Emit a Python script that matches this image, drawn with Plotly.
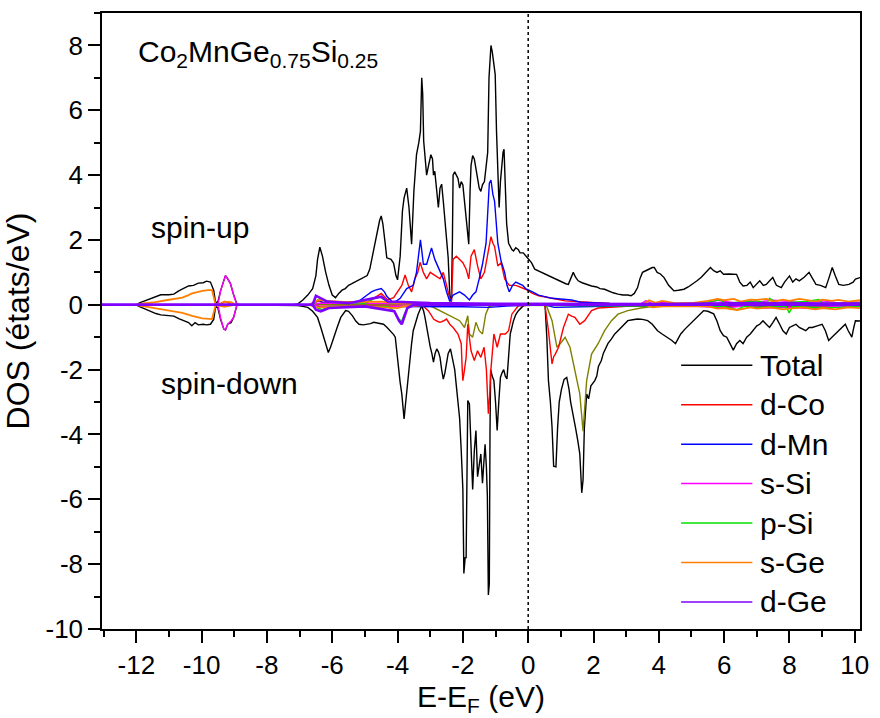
import plotly.graph_objects as go

# ---------------- data (energy in eV, DOS in states/eV) ----------------
x_tickvals = [-12, -10, -8, -6, -4, -2, 0, 2, 4, 6, 8, 10]
x_ticktext = ["-12", "-10", "-8", "-6", "-4", "-2", "0", "2", "4", "6", "8", "10"]
y_tickvals = [-10, -8, -6, -4, -2, 0, 2, 4, 6, 8]
y_ticktext = ["-10", "-8", "-6", "-4", "-2", "0", "2", "4", "6", "8"]

legend_names = ["Total", "d-Co", "d-Mn", "s-Si", "p-Si", "s-Ge", "d-Ge"]
legend_colors = ["#000000", "#ff0000", "#0000ff", "#ff00ff", "#00e000", "#ff8000", "#8000ff"]
olive_color = "#808000"

total_up = [(-13.05, 0), (-12.0, 0), (-11.9, 0.06), (-11.8, 0.1), (-11.6, 0.18), (-11.4, 0.25), (-11.25, 0.31),
            (-11.0, 0.31), (-10.85, 0.33), (-10.7, 0.43), (-10.55, 0.5), (-10.4, 0.58), (-10.25, 0.6), (-10.1, 0.67),
            (-9.95, 0.68), (-9.85, 0.73), (-9.73, 0.7), (-9.63, 0.45), (-9.57, 0.05), (-9.5, 0.1), (-9.42, 0.43),
            (-9.32, 0.78), (-9.27, 0.9), (-9.2, 0.8), (-9.12, 0.66), (-9.02, 0.31), (-8.92, 0.02), (-8.8, 0),
            (-7.2, 0), (-7.05, 0.03), (-6.9, 0.15), (-6.75, 0.3), (-6.6, 0.5), (-6.5, 0.9), (-6.45, 1.4),
            (-6.38, 1.78), (-6.3, 1.5), (-6.2, 1.0), (-6.1, 0.6), (-6.0, 0.3), (-5.9, 0.22), (-5.8, 0.35),
            (-5.7, 0.45), (-5.6, 0.5), (-5.5, 0.6), (-5.4, 0.65), (-5.3, 0.7), (-5.2, 0.75), (-5.1, 0.8),
            (-5.0, 0.85), (-4.93, 0.9), (-4.85, 1.1), (-4.75, 1.6), (-4.65, 2.2), (-4.55, 2.6), (-4.5, 2.74),
            (-4.45, 2.5), (-4.38, 1.9), (-4.33, 1.45), (-4.2, 1.4), (-4.12, 1.28), (-4.05, 0.9), (-4.0, 0.77),
            (-3.92, 1.5), (-3.85, 2.9), (-3.8, 3.3), (-3.72, 3.6), (-3.65, 3.0), (-3.57, 1.87), (-3.5, 3.5),
            (-3.42, 4.63), (-3.35, 5.0), (-3.3, 5.35), (-3.26, 7.0), (-3.23, 6.5), (-3.2, 5.05), (-3.15, 4.5),
            (-3.11, 4.0), (-3.05, 4.3), (-2.98, 4.63), (-2.93, 4.5), (-2.9, 4.0), (-2.86, 4.12), (-2.8, 3.5),
            (-2.75, 3.0), (-2.7, 3.6), (-2.65, 3.72), (-2.6, 3.2), (-2.55, 2.69), (-2.5, 2.0), (-2.45, 1.45),
            (-2.4, 0.3), (-2.35, 0.1), (-2.32, 2.0), (-2.3, 4.0), (-2.25, 4.1), (-2.2, 4.0), (-2.15, 3.9),
            (-2.1, 3.6), (-2.05, 3.8), (-2.0, 3.7), (-1.95, 3.2), (-1.9, 2.7), (-1.82, 1.87), (-1.78, 3.5),
            (-1.75, 4.3), (-1.7, 4.6), (-1.65, 4.5), (-1.6, 4.2), (-1.55, 3.9), (-1.5, 3.6), (-1.45, 3.5),
            (-1.4, 3.7), (-1.34, 3.8), (-1.3, 4.2), (-1.24, 4.7), (-1.2, 7.0), (-1.17, 7.6), (-1.14, 8.0),
            (-1.1, 7.8), (-1.06, 7.5), (-1.01, 7.1), (-0.97, 5.35), (-0.93, 3.8), (-0.89, 3.0), (-0.85, 3.8),
            (-0.81, 4.3), (-0.77, 4.7), (-0.74, 4.8), (-0.7, 3.5), (-0.66, 2.5), (-0.6, 1.9), (-0.55, 1.8),
            (-0.5, 1.7), (-0.45, 1.66), (-0.38, 1.76), (-0.3, 1.7), (-0.25, 1.6), (-0.15, 1.6), (-0.07, 1.5),
            (0.0, 1.4), (0.1, 1.3), (0.2, 1.1), (0.3, 1.05), (0.4, 1.0), (0.52, 0.94), (0.6, 0.9), (0.7, 0.85),
            (0.8, 0.8), (0.93, 0.74), (1.05, 0.7), (1.15, 0.65), (1.23, 0.63), (1.3, 0.8), (1.38, 1.0),
            (1.45, 0.85), (1.53, 0.74), (1.65, 0.68), (1.8, 0.62), (1.94, 0.58), (2.1, 0.55), (2.2, 0.5),
            (2.34, 0.48), (2.5, 0.4), (2.6, 0.37), (2.75, 0.33), (2.9, 0.3), (3.05, 0.3), (3.15, 0.28),
            (3.25, 0.35), (3.35, 0.53), (3.42, 0.8), (3.5, 1.0), (3.6, 1.05), (3.71, 1.1), (3.8, 1.15),
            (3.86, 1.15), (3.95, 1.0), (4.05, 0.95), (4.16, 0.84), (4.3, 0.6), (4.46, 0.43), (4.6, 0.45),
            (4.77, 0.48), (4.9, 0.55), (5.05, 0.65), (5.17, 0.74), (5.3, 0.85), (5.45, 1.0), (5.58, 1.15),
            (5.68, 1.05), (5.78, 1.0), (5.88, 1.05), (5.98, 0.94), (6.15, 0.95), (6.3, 0.95), (6.38, 0.94),
            (6.48, 0.7), (6.58, 0.58), (6.7, 0.6), (6.8, 0.7), (6.89, 0.53), (7.0, 0.65), (7.09, 0.74),
            (7.2, 0.6), (7.29, 0.63), (7.4, 0.75), (7.49, 0.84), (7.6, 0.6), (7.75, 0.53), (7.85, 0.7),
            (8.0, 0.89), (8.1, 0.7), (8.2, 0.8), (8.3, 0.74), (8.45, 0.85), (8.6, 1.0), (8.7, 0.8),
            (8.81, 0.63), (8.95, 0.6), (9.11, 0.53), (9.2, 0.8), (9.31, 1.15), (9.4, 0.9), (9.51, 0.63),
            (9.65, 0.6), (9.82, 0.63), (9.95, 0.7), (10.02, 0.79), (10.16, 0.84)]

total_down = [(-13.05, 0), (-12.0, 0), (-11.9, -0.06), (-11.8, -0.1), (-11.6, -0.2), (-11.4, -0.27),
              (-11.25, -0.31), (-11.0, -0.33), (-10.85, -0.35), (-10.7, -0.43), (-10.55, -0.5), (-10.4, -0.55),
              (-10.3, -0.65), (-10.2, -0.55), (-10.1, -0.62), (-9.95, -0.6), (-9.85, -0.62), (-9.73, -0.6),
              (-9.63, -0.45), (-9.57, -0.05), (-9.5, -0.1), (-9.42, -0.45), (-9.32, -0.75), (-9.27, -0.78),
              (-9.2, -0.6), (-9.1, -0.55), (-9.02, -0.39), (-8.92, -0.02), (-8.8, 0), (-7.1, 0), (-7.05, -0.02),
              (-6.9, -0.05), (-6.75, -0.08), (-6.6, -0.2), (-6.45, -0.39), (-6.35, -0.7), (-6.24, -1.1),
              (-6.12, -1.47), (-6.05, -1.3), (-5.99, -1.1), (-5.85, -0.7), (-5.74, -0.39), (-5.65, -0.25),
              (-5.59, -0.18), (-5.5, -0.2), (-5.38, -0.34), (-5.28, -0.5), (-5.18, -0.6), (-5.05, -0.62),
              (-4.93, -0.6), (-4.83, -0.58), (-4.73, -0.54), (-4.6, -0.56), (-4.43, -0.6), (-4.32, -0.7),
              (-4.22, -0.8), (-4.12, -0.92), (-4.07, -1.0), (-4.02, -1.5), (-3.97, -1.93), (-3.92, -2.4),
              (-3.87, -2.75), (-3.8, -3.52), (-3.76, -3.1), (-3.72, -2.65), (-3.67, -2.1), (-3.62, -1.62),
              (-3.57, -1.2), (-3.52, -0.8), (-3.45, -0.55), (-3.37, -0.29), (-3.26, -0.03), (-3.2, -0.2),
              (-3.16, -0.39), (-3.08, -0.9), (-3.0, -1.3), (-2.95, -1.5), (-2.9, -1.77), (-2.85, -1.5),
              (-2.8, -1.36), (-2.75, -1.45), (-2.7, -1.62), (-2.65, -2.0), (-2.6, -2.29), (-2.55, -2.1),
              (-2.5, -1.83), (-2.45, -1.5), (-2.38, -1.36), (-2.3, -1.7), (-2.25, -2.0), (-2.2, -2.5),
              (-2.15, -3.06), (-2.1, -3.5), (-2.05, -4.5), (-2.0, -5.7), (-1.97, -8.29), (-1.93, -7.8),
              (-1.9, -7.8), (-1.87, -4.0), (-1.85, -2.95), (-1.8, -3.06), (-1.75, -4.5), (-1.7, -5.7),
              (-1.65, -4.5), (-1.6, -3.88), (-1.55, -5.3), (-1.5, -4.9), (-1.45, -4.6), (-1.4, -5.5),
              (-1.36, -5.0), (-1.32, -4.3), (-1.28, -5.0), (-1.25, -5.9), (-1.22, -8.95), (-1.19, -8.6),
              (-1.17, -4.0), (-1.15, -2.0), (-1.1, -2.2), (-1.05, -2.34), (-1.0, -3.0), (-0.95, -3.88),
              (-0.9, -3.0), (-0.85, -2.24), (-0.8, -2.1), (-0.75, -2.0), (-0.7, -2.2), (-0.65, -2.29),
              (-0.6, -1.6), (-0.55, -0.9), (-0.5, -0.7), (-0.45, -0.49), (-0.38, -0.3), (-0.3, -0.18),
              (-0.2, -0.08), (-0.1, 0), (0.5, 0), (0.52, -0.08), (0.57, -1.0), (0.62, -2.34), (0.68, -3.0),
              (0.73, -3.77), (0.78, -4.98), (0.85, -5.0), (0.9, -3.8), (0.95, -3.0), (1.02, -2.6), (1.1, -2.3),
              (1.18, -2.24), (1.25, -2.6), (1.3, -3.0), (1.38, -3.5), (1.45, -3.8), (1.52, -4.2), (1.58, -4.6),
              (1.64, -5.8), (1.68, -5.4), (1.72, -3.8), (1.79, -2.75), (1.85, -2.9), (1.92, -2.5), (2.04, -2.34),
              (2.1, -2.2), (2.15, -1.9), (2.24, -1.72), (2.3, -1.5), (2.38, -1.35), (2.44, -1.2), (2.55, -1.05),
              (2.65, -0.9), (2.75, -0.8), (2.85, -0.7), (2.95, -0.6), (3.05, -0.49), (3.2, -0.46),
              (3.35, -0.44), (3.5, -0.45), (3.66, -0.49), (3.8, -0.6), (3.96, -0.8), (4.1, -0.9), (4.26, -1.0),
              (4.4, -1.1), (4.51, -1.2), (4.6, -1.05), (4.67, -0.9), (4.8, -0.75), (4.95, -0.6), (5.07, -0.49),
              (5.2, -0.35), (5.37, -0.18), (5.5, -0.2), (5.68, -0.28), (5.78, -0.5), (5.88, -0.8),
              (5.98, -0.95), (6.08, -1.0), (6.18, -1.2), (6.28, -1.4), (6.38, -1.2), (6.48, -1.1),
              (6.58, -1.2), (6.69, -1.0), (6.8, -0.9), (6.89, -0.8), (7.0, -0.65), (7.09, -0.6), (7.19, -0.49),
              (7.29, -0.6), (7.39, -0.7), (7.49, -0.55), (7.59, -0.39), (7.7, -0.6), (7.8, -0.8), (7.9, -0.9),
              (8.0, -0.7), (8.1, -0.65), (8.2, -0.6), (8.3, -0.7), (8.4, -0.75), (8.5, -0.8), (8.6, -0.7),
              (8.7, -0.7), (8.85, -0.65), (9.0, -0.6), (9.1, -0.8), (9.2, -1.1), (9.3, -1.0), (9.41, -0.9),
              (9.55, -0.75), (9.71, -0.6), (9.8, -0.8), (9.91, -1.0), (9.97, -0.7), (10.02, -0.49),
              (10.16, -0.5)]

dco_up = [(-13.05, 0), (-9.4, 0), (-9.3, 0.1), (-9.2, 0.08), (-9.1, 0), (-6.6, 0), (-6.5, 0.08), (-6.4, 0.12),
          (-6.3, 0.06), (-5.0, 0.05), (-4.8, 0.15), (-4.6, 0.3), (-4.5, 0.35), (-4.4, 0.25), (-4.3, 0.15),
          (-4.12, 0.22), (-4.0, 0.4), (-3.87, 0.6), (-3.77, 0.92), (-3.67, 0.6), (-3.57, 0.4), (-3.47, 0.8),
          (-3.38, 1.0), (-3.31, 1.31), (-3.21, 1.0), (-3.11, 0.8), (-3.0, 1.0), (-2.86, 0.9), (-2.7, 0.8),
          (-2.6, 1.0), (-2.5, 0.6), (-2.4, 0.2), (-2.35, 0.1), (-2.3, 1.4), (-2.2, 1.5), (-2.1, 1.4),
          (-2.0, 1.3), (-1.9, 1.1), (-1.82, 0.8), (-1.75, 1.5), (-1.65, 1.7), (-1.55, 1.2), (-1.45, 0.8),
          (-1.34, 1.0), (-1.24, 1.6), (-1.18, 1.9), (-1.14, 2.1), (-1.08, 1.9), (-1.03, 1.8), (-0.93, 1.2),
          (-0.83, 1.3), (-0.72, 0.8), (-0.58, 0.6), (-0.38, 0.6), (-0.17, 0.5), (-0.08, 0.48), (0.13, 0.35),
          (0.32, 0.28), (0.73, 0.2), (1.13, 0.12), (1.94, 0.07), (2.5, 0.04), (10.16, 0.03)]

dco_down = [(-13.05, 0), (-6.5, 0), (-6.4, -0.05), (-5.0, -0.03), (-3.2, -0.05), (-3.06, -0.18), (-2.98, -0.3),
            (-2.9, -0.44), (-2.8, -0.5), (-2.7, -0.54), (-2.6, -0.5), (-2.5, -0.44), (-2.4, -0.6), (-2.3, -0.7),
            (-2.15, -0.9), (-2.05, -1.2), (-2.02, -2.0), (-2.0, -2.34), (-1.95, -2.0), (-1.9, -1.62),
            (-1.85, -0.6), (-1.8, -1.0), (-1.75, -1.42), (-1.65, -1.72), (-1.55, -1.42), (-1.45, -1.62),
            (-1.35, -1.31), (-1.28, -2.0), (-1.25, -2.54), (-1.22, -3.36), (-1.18, -2.8), (-1.15, -2.1),
            (-1.05, -0.9), (-0.95, -1.31), (-0.85, -0.9), (-0.7, -0.9), (-0.6, -0.8), (-0.5, -0.29),
            (-0.3, -0.03), (0.5, 0), (0.52, -0.06), (0.62, -0.8), (0.73, -1.82), (0.78, -1.6), (0.83, -1.52),
            (0.93, -1.31), (1.08, -0.7), (1.23, -0.29), (1.33, -0.35), (1.43, -0.39), (1.58, -0.6),
            (1.73, -0.49), (1.94, -0.18), (2.14, -0.1), (3.0, -0.05), (10.16, -0.03)]

dmn_up = [(-13.05, 0), (-6.6, 0), (-6.5, 0.1), (-6.4, 0.15), (-6.3, 0.08), (-5.2, 0.1), (-4.93, 0.3),
          (-4.8, 0.4), (-4.68, 0.45), (-4.5, 0.5), (-4.4, 0.4), (-4.33, 0.26), (-4.12, 0.05), (-3.92, 0.2),
          (-3.72, 0.5), (-3.52, 0.6), (-3.42, 1.0), (-3.37, 1.4), (-3.3, 2.0), (-3.25, 1.6), (-3.21, 1.25),
          (-3.11, 1.25), (-3.03, 1.5), (-2.96, 1.75), (-2.86, 1.4), (-2.7, 1.0), (-2.6, 0.8), (-2.5, 0.4),
          (-2.4, 0.1), (-2.3, 0.3), (-2.1, 0.4), (-1.95, 0.3), (-1.8, 0.15), (-1.7, 0.3), (-1.6, 0.4),
          (-1.5, 0.8), (-1.4, 1.25), (-1.29, 1.9), (-1.22, 3.0), (-1.19, 3.75), (-1.14, 3.85), (-1.08, 3.4),
          (-1.03, 3.2), (-0.97, 2.5), (-0.93, 1.9), (-0.83, 1.35), (-0.72, 1.0), (-0.65, 0.6), (-0.58, 0.4),
          (-0.48, 0.6), (-0.38, 0.7), (-0.17, 0.6), (-0.08, 0.5), (0.13, 0.4), (0.32, 0.3), (0.73, 0.2),
          (1.33, 0.15), (1.6, 0.08), (2.5, 0.04), (10.16, 0.03)]

dmn_down = [(-13.05, 0), (-6.6, 0), (-6.4, -0.05), (-4.5, -0.05), (-3.0, -0.04), (-2.0, -0.06), (-1.2, -0.08),
            (-0.5, -0.03), (0.5, 0), (0.8, -0.08), (1.6, -0.06), (3.0, -0.03), (10.16, -0.02)]

olive_down = [(-13.05, 0), (-3.1, 0), (-3.0, -0.03), (-2.8, -0.13), (-2.5, -0.29), (-2.3, -0.39), (-2.1, -0.49),
              (-1.95, -0.7), (-1.85, -0.34), (-1.8, -0.9), (-1.7, -1.0), (-1.6, -0.54), (-1.5, -0.8),
              (-1.4, -0.9), (-1.3, -0.29), (-1.2, -0.05), (-0.8, 0), (0.5, 0), (0.57, -0.06), (0.73, -0.49),
              (0.88, -1.31), (0.98, -1.2), (1.13, -1.0), (1.28, -1.31), (1.43, -2.0), (1.58, -2.75),
              (1.68, -3.9), (1.79, -2.34), (1.94, -1.52), (2.14, -1.2), (2.34, -0.8), (2.55, -0.49),
              (2.75, -0.29), (3.05, -0.18), (3.45, -0.1), (3.85, -0.05), (10.16, -0.02)]

ssi_up = [(-13.05, 0), (-9.5, 0), (-9.42, 0.43), (-9.32, 0.78), (-9.27, 0.9), (-9.2, 0.8), (-9.12, 0.66),
          (-9.02, 0.31), (-8.92, 0), (-6.6, 0), (-6.4, 0.05), (-4.5, 0.04), (-3.0, 0.02), (3.4, 0), (3.6, 0.12),
          (3.8, 0.04), (4.0, 0.08), (4.5, 0.03), (5.0, 0.06), (5.5, 0.05), (5.8, 0.14), (6.0, 0.1),
          (6.4, 0.06), (6.8, 0.12), (7.0, 0.08), (7.5, 0.14), (8.0, 0.1), (8.5, 0.06), (9.0, 0.12),
          (9.5, 0.06), (10.16, 0.08)]

ssi_down = [(-13.05, 0), (-9.5, 0), (-9.42, -0.4), (-9.32, -0.75), (-9.27, -0.78), (-9.2, -0.6), (-9.1, -0.5),
            (-9.02, -0.39), (-8.92, 0), (-6.6, 0), (-6.4, -0.04), (-4.0, -0.05), (-3.0, 0), (4.0, 0),
            (5.2, -0.05), (6.0, -0.1), (6.6, -0.04), (7.2, -0.1), (8.0, -0.08), (8.8, -0.12), (9.4, -0.05),
            (10.16, -0.06)]

psi_up = [(-13.05, 0), (-6.6, 0), (-6.45, 0.15), (-6.35, 0.2), (-6.2, 0.1), (-5.0, 0.05), (-4.7, 0.2),
          (-4.55, 0.25), (-4.4, 0.15), (-4.2, 0.05), (-3.0, 0.02), (5.0, 0.02), (5.9, 0.15), (6.0, 0.05),
          (7.0, 0.12), (7.3, 0.05), (7.39, 0.2), (7.6, 0.05), (8.5, 0.1), (8.9, 0.16), (9.0, 0.05),
          (10.16, 0.05)]

psi_down = [(-13.05, 0), (-6.6, 0), (-6.45, -0.1), (-6.3, -0.15), (-6.1, -0.05), (-4.3, -0.05), (-4.1, -0.2),
            (-3.95, -0.45), (-3.87, -0.5), (-3.8, -0.3), (-3.7, -0.1), (-3.5, 0), (6.0, -0.05), (6.4, -0.15),
            (6.6, -0.05), (7.0, -0.08), (7.9, -0.05), (7.99, -0.25), (8.1, -0.05), (9.0, -0.1), (9.5, -0.08),
            (10.16, -0.05)]

sge_up = [(-13.05, 0), (-12.0, 0), (-11.8, 0.04), (-11.5, 0.07), (-11.09, 0.14), (-10.8, 0.18), (-10.59, 0.22),
          (-10.4, 0.3), (-10.29, 0.35), (-10.1, 0.4), (-9.98, 0.43), (-9.8, 0.45), (-9.68, 0.45), (-9.62, 0.2),
          (-9.57, 0), (-9.4, 0.05), (-9.3, 0.1), (-9.1, 0.08), (-8.95, 0), (-6.7, 0), (-6.55, 0.1),
          (-6.4, 0.15), (-6.2, 0.12), (-5.5, 0.08), (-5.0, 0.1), (-4.5, 0.1), (-4.0, 0.05), (-3.0, 0.02),
          (3.5, 0), (3.7, 0.14), (3.9, 0.06), (4.1, 0.12), (4.5, 0.05), (5.0, 0.05), (5.5, 0.12), (5.8, 0.18),
          (6.0, 0.14), (6.3, 0.18), (6.5, 0.1), (6.8, 0.16), (7.0, 0.15), (7.3, 0.18), (7.5, 0.1), (7.8, 0.16),
          (8.0, 0.12), (8.3, 0.18), (8.5, 0.15), (8.8, 0.1), (9.0, 0.16), (9.3, 0.12), (9.5, 0.15),
          (9.8, 0.1), (10.16, 0.14)]

sge_down = [(-13.05, 0), (-12.0, 0), (-11.8, -0.04), (-11.09, -0.16), (-10.59, -0.25), (-10.29, -0.34),
            (-9.98, -0.42), (-9.68, -0.44), (-9.62, -0.2), (-9.57, 0), (-9.3, -0.06), (-9.0, 0), (-6.7, 0),
            (-6.5, -0.08), (-5.0, -0.05), (-4.0, -0.1), (-3.8, -0.05), (-3.0, 0), (3.6, 0), (3.8, -0.08),
            (4.2, -0.04), (5.5, -0.05), (5.8, -0.12), (6.0, -0.1), (6.4, -0.16), (6.8, -0.08), (7.0, -0.12),
            (7.4, -0.08), (7.8, -0.14), (8.0, -0.12), (8.4, -0.08), (8.8, -0.14), (9.0, -0.1), (9.4, -0.14),
            (9.8, -0.08), (10.16, -0.1)]

dge_up = [(-13.05, 0), (-6.6, 0), (-6.5, 0.28), (-6.35, 0.2), (-6.15, 0.1), (-5.5, 0.05), (-4.7, 0.2),
          (-4.5, 0.25), (-4.3, 0.1), (-3.0, 0.05), (-1.0, 0.03), (4.0, 0.02), (7.0, 0.05), (10.16, 0.04)]

dge_down = [(-13.05, 0), (-6.6, 0), (-6.5, -0.15), (-6.35, -0.2), (-6.1, -0.1), (-5.0, -0.05), (-4.1, -0.2),
            (-3.95, -0.5), (-3.87, -0.6), (-3.8, -0.4), (-3.7, -0.1), (-3.5, 0), (10.16, 0)]

formula_text = "Co<sub>2</sub>MnGe<sub>0.75</sub>Si<sub>0.25</sub>"
spin_up_text = "spin-up"
spin_down_text = "spin-down"

# ---------------- figure ----------------
FONT = "Liberation Sans, Arial, sans-serif"
fig = go.Figure()


def add_curve(points, color, width=1.4):
    fig.add_trace(go.Scatter(
        x=[p[0] for p in points], y=[p[1] for p in points], mode="lines",
        line=dict(color=color, width=width), showlegend=False, hoverinfo="skip"))


add_curve(total_up, legend_colors[0])
add_curve(total_down, legend_colors[0])
add_curve(olive_down, olive_color)
add_curve(dco_up, legend_colors[1])
add_curve(dco_down, legend_colors[1])
add_curve(dmn_up, legend_colors[2])
add_curve(dmn_down, legend_colors[2])
add_curve(ssi_up, legend_colors[3])
add_curve(ssi_down, legend_colors[3])
add_curve(psi_up, legend_colors[4])
add_curve(psi_down, legend_colors[4])
add_curve(sge_up, legend_colors[5], 1.8)
add_curve(sge_down, legend_colors[5], 1.8)
add_curve(dge_up, legend_colors[6], 2.6)
add_curve(dge_down, legend_colors[6], 2.6)

# Fermi level
fig.add_shape(type="line", xref="x", yref="paper", x0=0, x1=0, y0=0, y1=1,
              line=dict(color="black", width=1.5, dash="dot"))

# manual legend (long line samples as in the original)
leg_top = 0.428
leg_step = 0.064
for i, (name, col) in enumerate(zip(legend_names, legend_colors)):
    yy = leg_top - i * leg_step
    fig.add_shape(type="line", xref="paper", yref="paper", x0=0.764, x1=0.858, y0=yy, y1=yy,
                  line=dict(color=col, width=1.5))
    fig.add_annotation(xref="paper", yref="paper", x=0.866, y=yy, text=name, showarrow=False,
                       xanchor="left", yanchor="middle", font=dict(size=30, color="black", family=FONT))

fig.add_annotation(xref="paper", yref="paper", x=0.045, y=0.935, text=formula_text, showarrow=False,
                   xanchor="left", yanchor="middle", font=dict(size=30, color="black", family=FONT))
fig.add_annotation(xref="paper", yref="paper", x=0.062, y=0.652, text=spin_up_text, showarrow=False,
                   xanchor="left", yanchor="middle", font=dict(size=30, color="black", family=FONT))
fig.add_annotation(xref="paper", yref="paper", x=0.075, y=0.398, text=spin_down_text, showarrow=False,
                   xanchor="left", yanchor="middle", font=dict(size=30, color="black", family=FONT))

axis_common = dict(showline=True, mirror=True, linecolor="black", linewidth=1.5, showgrid=False,
                   zeroline=False, ticks="outside", ticklen=12, tickwidth=1.5, tickcolor="black",
                   tickfont=dict(size=26, color="black", family=FONT))

fig.update_xaxes(range=[-13.05, 10.16], tickmode="array", tickvals=x_tickvals, ticktext=x_ticktext,
                 minor=dict(dtick=1, tick0=1, ticks="outside", ticklen=6, tickwidth=1.5, tickcolor="black"),
                 title=dict(text="E-E<sub>F</sub> (eV)", font=dict(size=30, color="black", family=FONT),
                            standoff=2),
                 **axis_common)
fig.update_yaxes(range=[-10, 9], tickmode="array", tickvals=y_tickvals, ticktext=y_ticktext,
                 minor=dict(dtick=1, tick0=1, ticks="outside", ticklen=6, tickwidth=1.5, tickcolor="black"),
                 title=dict(text="DOS (états/eV)", font=dict(size=32, color="black", family=FONT),
                            standoff=12),
                 **axis_common)

fig.update_layout(width=880, height=718, margin=dict(l=102, r=12, t=11, b=89),
                  paper_bgcolor="white", plot_bgcolor="white", font=dict(family=FONT, color="black"))

fig.write_html("out.html")
